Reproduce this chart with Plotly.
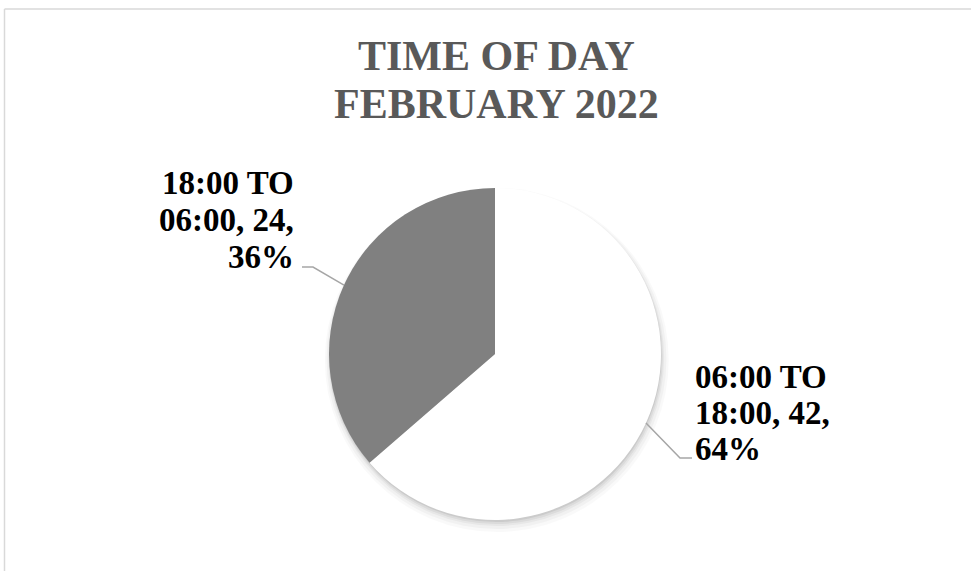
"""
Pie chart: time of day, February 2022
"""

import math
import plotly.graph_objects as go

labels = ['06:00 TO 18:00', '18:00 TO 06:00']
values = [42, 24]
colors = ['#FFFFFF', '#808080']
title_lines = ['TIME OF DAY', 'FEBRUARY 2022']

W, H = 971, 571
cx, cy, r = 495, 354, 166    # pie centre / radius in px

def px(x):
    return x / W

def py(y):
    return 1 - y / H

fig = go.Figure()
fig.add_trace(go.Pie(
    labels=labels, values=values, sort=False, direction='clockwise', rotation=0,
    marker=dict(colors=colors, line=dict(color='#FFFFFF', width=0)),
    textinfo='none', hoverinfo='label+value+percent', showlegend=False,
    domain=dict(x=[px(cx - r), px(cx + r)], y=[py(cy + r), py(cy - r)]),
))

shapes = []
# soft shadow under the pie
for off, grow, op in [(6, 6, 0.025), (5, 4, 0.03), (4, 2, 0.04), (3, 1, 0.05), (2, 0, 0.07)]:
    shapes.append(dict(type='circle', xref='paper', yref='paper', layer='below',
                       x0=px(cx - r - grow + off * 0.3), x1=px(cx + r + grow + off * 0.3),
                       y0=py(cy + r + grow + off), y1=py(cy - r - grow + off),
                       fillcolor='rgba(0,0,0,%s)' % op, line=dict(width=0)))
# chart frame
shapes.append(dict(type='line', xref='paper', yref='paper', x0=px(4.5), x1=1.02, y0=py(9), y1=py(9),
                   line=dict(color='#D9D9D9', width=1.5)))
shapes.append(dict(type='line', xref='paper', yref='paper', x0=px(4.5), x1=px(4.5), y0=py(9), y1=-0.02,
                   line=dict(color='#D9D9D9', width=1.5)))

# leader lines from slice mid-angles
total = sum(values)
start = 0.0
mids = []
for v in values:
    mids.append(start + v / total * 180)
    start += v / total * 360
ends = [((680, 458), (692, 458)), ((313, 267), (302, 267))]
for mid, (knee, end) in zip(mids, ends):
    a = math.radians(90 - mid)
    sx, sy = cx + r * math.cos(a), cy - r * math.sin(a)
    shapes.append(dict(type='path', xref='paper', yref='paper',
                       path='M %f,%f L %f,%f L %f,%f' % (px(sx), py(sy), px(knee[0]), py(knee[1]),
                                                         px(end[0]), py(end[1])),
                       line=dict(color='#A6A6A6', width=1.5)))

annotations = []
title_font = dict(family='Liberation Serif, Times New Roman, serif', size=42, color='#595959')
for line, ymid in zip(title_lines, [56, 104]):
    annotations.append(dict(text='<b>%s</b>' % line, x=px(W / 2 + 11), y=py(ymid), xref='paper', yref='paper',
                            showarrow=False, xanchor='center', yanchor='middle', font=title_font))

label_font = dict(family='Liberation Serif, Times New Roman, serif', size=33, color='#000000')
pct = [round(v / total * 100) for v in values]
label_lines = [
    ['06:00 TO', '18:00, %d,' % values[0], '%d%%' % pct[0]],
    ['18:00 TO', '06:00, %d,' % values[1], '%d%%' % pct[1]],
]
label_pos = [(693, 'left', [377, 413, 449]), (296, 'right', [183, 220, 257])]
for lines, (x, anchor, ys) in zip(label_lines, label_pos):
    for line, y in zip(lines, ys):
        annotations.append(dict(text='<b>%s</b>' % line, x=px(x), y=py(y), xref='paper', yref='paper',
                                showarrow=False, xanchor=anchor, yanchor='middle', font=label_font))

fig.update_layout(
    width=W, height=H, margin=dict(l=0, r=0, t=0, b=0),
    paper_bgcolor='#FFFFFF', plot_bgcolor='#FFFFFF',
    shapes=shapes, annotations=annotations,
)
fig.write_html("out.html", config={'displayModeBar': False},
               post_script="document.body.style.margin = '0';")
